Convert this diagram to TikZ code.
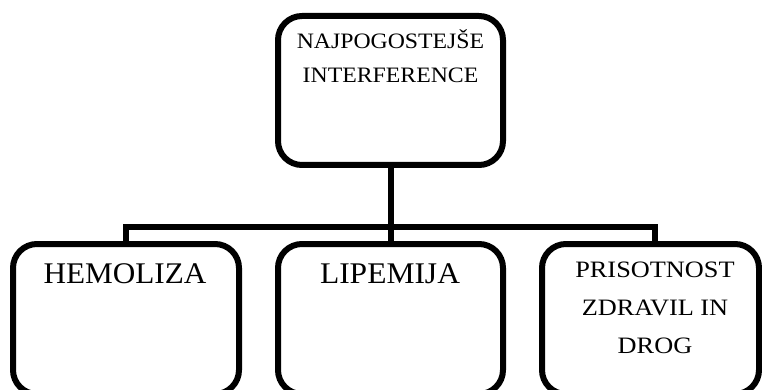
\documentclass[tikz,border=0pt]{standalone}
\usepackage{fontspec}
\usepackage{graphicx}
\setmainfont{Liberation Serif}
\begin{document}
\begin{tikzpicture}[x=1pt,y=-1pt,
  box/.style={draw=black,line width=6pt,rounded corners=24pt,fill=white,inner sep=0pt},
  conn/.style={draw=black,line width=6pt,line join=miter},
  smalltxt/.style={anchor=base,inner sep=0pt,font=\fontsize{22}{22}\selectfont},
  bigtxt/.style={anchor=base,inner sep=0pt,font=\fontsize{30}{30}\selectfont},
  midtxt/.style={anchor=base,inner sep=0pt,font=\fontsize{23.5}{23.5}\selectfont}]
\useasboundingbox (0,0) rectangle (762,390);
\clip (0,0) rectangle (762,390);
% boxes
\node[box,minimum width=225pt,minimum height=149pt] (top) at (390.5,90.5) {};
\node[box,minimum width=226pt,minimum height=150pt] (b1) at (126,319) {};
\node[box,minimum width=225pt,minimum height=150pt] (b2) at (390.5,319) {};
\node[box,minimum width=217pt,minimum height=150pt] (b3) at (650.5,319) {};
% connectors
\coordinate (busL) at (126,227);
\coordinate (busR) at (655,227);
\coordinate (busM) at (top.south |- busL);
\draw[conn] (top.south) -- (busM);
\draw[conn] (b1.north -| busL) -- (busL) -- (busR) -- (b3.north -| busR);
\draw[conn] (busM) -- (b2.north);
% texts
\node[smalltxt] (t1) at (390.5,49) {\scalebox{1.08}[1]{NAJPOGOSTEJŠE}};
\node[smalltxt] (t2) at (390.5,83) {\scalebox{1.08}[1]{INTERFERENCE}};
\node[bigtxt] (h1) at (125,283) {\scalebox{1.04}[1]{HEMOLIZA}};
\node[bigtxt] (l1) at (390,283) {\scalebox{1.05}[1]{LIPEMIJA}};
\node[midtxt] (p1) at (655,277) {\scalebox{1.12}[1]{PRISOTNOST}};
\node[midtxt] (p2) at (655,315) {\scalebox{1.12}[1]{ZDRAVIL IN}};
\node[midtxt] (p3) at (655,353) {\scalebox{1.12}[1]{DROG}};
\end{tikzpicture}
\end{document}
